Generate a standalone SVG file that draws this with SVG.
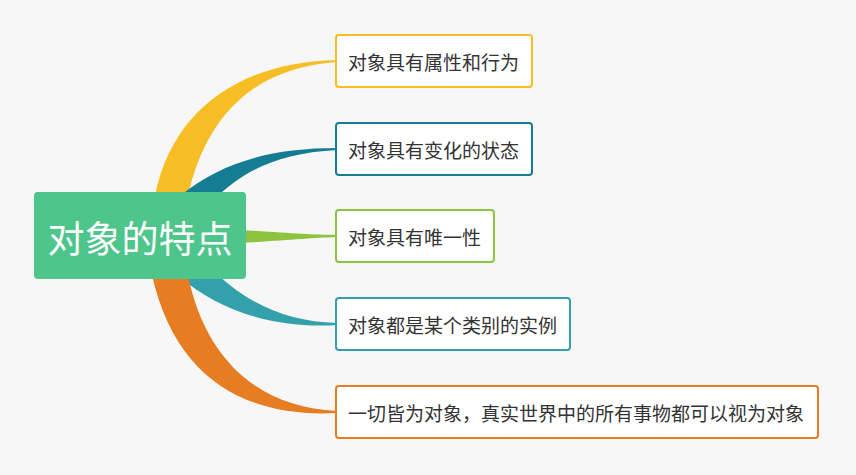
<svg xmlns="http://www.w3.org/2000/svg" width="856" height="475" viewBox="0 0 856 475">
<style>
.n{fill:#fff;stroke-width:2}
.t{font-family:"Noto Sans CJK SC","Liberation Sans",sans-serif;font-size:19px;fill:#333;dominant-baseline:central}
</style>
<rect width="856" height="475" fill="#f7f7f7"/>
<g id="connectors">
<path d="M155,196 C172,110 240,62 337,60 L337,62 C250,68 205,120 188,196 Z" fill="#f6bd25"/>
<path d="M180,196 C220,163 270,148 337,148 L337,150 C280,153 245,170 218,196 Z" fill="#157d93"/>
<path d="M240,230 C290,233 310,235 337,235 L337,237 C310,238 290,240 240,243 Z" fill="#8cc43f"/>
<path d="M218,275 C250,305 290,322 337,323 L337,325 C278,329 218,312 178,275 Z" fill="#33a1ab"/>
<path d="M188,275 C205,360 260,408 337,411 L337,413 C245,418 175,378 152,275 Z" fill="#e67d22"/>
</g>
<g id="root"><rect x="34" y="192" width="212" height="87" rx="4" fill="#4ec58b"/><text x="140" y="237" font-family="Noto Sans CJK SC,sans-serif" font-size="37" fill="#fff" text-anchor="middle" dominant-baseline="central">对象的特点</text></g>
<g id="n1"><rect class="n" x="336" y="35" width="196" height="52" rx="3" stroke="#f6bd25"/><text class="t" x="348" y="61">对象具有属性和行为</text></g>
<g id="n2"><rect class="n" x="336" y="123" width="196" height="52" rx="3" stroke="#157d93"/><text class="t" x="348" y="149">对象具有变化的状态</text></g>
<g id="n3"><rect class="n" x="336" y="210" width="158" height="52" rx="3" stroke="#8cc43f"/><text class="t" x="348" y="236">对象具有唯一性</text></g>
<g id="n4"><rect class="n" x="336" y="298" width="234" height="52" rx="3" stroke="#33a1ab"/><text class="t" x="348" y="324">对象都是某个类别的实例</text></g>
<g id="n5"><rect class="n" x="336" y="386" width="482" height="52" rx="3" stroke="#e67d22"/><text class="t" x="348" y="412">一切皆为对象，真实世界中的所有事物都可以视为对象</text></g>
</svg>
